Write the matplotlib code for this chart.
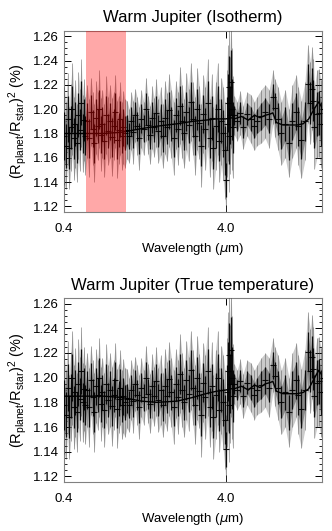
import matplotlib
matplotlib.use("Agg")
import matplotlib.pyplot as plt
from matplotlib.ticker import FixedLocator, MultipleLocator, NullLocator
import numpy as np

plt.rcParams['font.family'] = ['Liberation Sans', 'DejaVu Sans']
plt.rcParams['mathtext.default'] = 'regular'

# observed spectrum (same simulated observation in both panels)
wave = [0.40, 0.41, 0.42, 0.43, 0.44, 0.45, 0.46, 0.47, 0.48, 0.49, 0.50, 0.51, 0.52, 0.53, 0.54,
        0.555, 0.57, 0.585, 0.60, 0.615, 0.63, 0.645, 0.66, 0.675, 0.69, 0.71, 0.73, 0.75, 0.77,
        0.79, 0.81, 0.83, 0.85, 0.87, 0.89, 0.91, 0.93, 0.95,
        0.98, 1.01, 1.04, 1.07, 1.10, 1.13, 1.16, 1.20, 1.24, 1.28, 1.32, 1.36, 1.40, 1.44, 1.48,
        1.53, 1.58, 1.63, 1.68, 1.73, 1.78, 1.84, 1.90, 1.96, 2.02, 2.08, 2.14, 2.21, 2.28, 2.35,
        2.42, 2.50, 2.58, 2.66, 2.74, 2.82, 2.90, 2.99, 3.08, 3.17, 3.26, 3.35, 3.45, 3.55, 3.65,
        3.75, 3.85, 3.95, 4.00, 4.05, 4.10, 4.15, 4.20, 4.25, 4.30, 4.35, 4.40,
        4.5, 4.7, 4.9, 5.1, 5.4, 5.7, 6.0, 6.2, 6.6, 7.0, 7.4, 7.8, 8.0, 8.4, 8.8, 9.3, 9.8,
        10.3, 10.9, 11.2, 11.7, 12.3, 12.8, 13.3, 13.6, 13.9, 14.1, 14.6, 15.0, 15.5, 16.0]
depth = [1.178, 1.170, 1.192, 1.168, 1.185, 1.200, 1.176, 1.188, 1.172, 1.195, 1.183, 1.205, 1.180, 1.191, 1.178,
         1.190, 1.176, 1.198, 1.184, 1.172, 1.193, 1.186, 1.200, 1.179, 1.188, 1.174, 1.195, 1.182, 1.190,
         1.177, 1.186, 1.198, 1.175, 1.183, 1.192, 1.178, 1.185, 1.180,
         1.183, 1.178, 1.190, 1.181, 1.195, 1.186, 1.176, 1.192, 1.184, 1.200, 1.187, 1.179, 1.193, 1.185, 1.197,
         1.182, 1.190, 1.178, 1.193, 1.185, 1.199, 1.188, 1.176, 1.195, 1.184, 1.203, 1.190, 1.180, 1.198, 1.187,
         1.206, 1.192, 1.178, 1.200, 1.189, 1.170, 1.196, 1.184, 1.205, 1.176, 1.193, 1.168, 1.186, 1.200, 1.174,
         1.190, 1.180, 1.166, 1.142, 1.188, 1.205, 1.178, 1.218, 1.195, 1.222, 1.200, 1.185,
         1.195, 1.190, 1.197, 1.185, 1.196, 1.192, 1.186, 1.190, 1.194, 1.198, 1.192, 1.210, 1.201, 1.192, 1.180, 1.188, 1.172,
         1.190, 1.198, 1.186, 1.175, 1.190, 1.221, 1.205, 1.217, 1.207, 1.185, 1.196, 1.197, 1.188, 1.200]
err = [0.020, 0.018, 0.019, 0.017, 0.018, 0.019, 0.017, 0.018, 0.016, 0.018, 0.017, 0.018, 0.016, 0.017, 0.016,
       0.015, 0.016, 0.014, 0.015, 0.016, 0.015, 0.014, 0.016, 0.015, 0.014, 0.015, 0.016, 0.014, 0.015,
       0.016, 0.014, 0.015, 0.016, 0.014, 0.015, 0.014, 0.015, 0.014,
       0.012, 0.011, 0.012, 0.013, 0.011, 0.012, 0.013, 0.012, 0.011, 0.013, 0.012, 0.012, 0.013, 0.012, 0.014,
       0.013, 0.014, 0.013, 0.015, 0.014, 0.015, 0.014, 0.015, 0.014, 0.015, 0.016, 0.015, 0.014, 0.016, 0.015,
       0.016, 0.015, 0.016, 0.017, 0.015, 0.017, 0.016, 0.017, 0.018, 0.016, 0.018, 0.017, 0.018, 0.019, 0.017,
       0.018, 0.019, 0.020, 0.014, 0.022, 0.024, 0.023, 0.026, 0.024, 0.027, 0.025, 0.021,
       0.008, 0.008, 0.009, 0.009, 0.009, 0.010, 0.010, 0.010, 0.011, 0.011, 0.012, 0.011, 0.012, 0.013, 0.013, 0.014, 0.014,
       0.015, 0.015, 0.016, 0.016, 0.016, 0.016, 0.017, 0.017, 0.017, 0.017, 0.018, 0.018, 0.018, 0.018]

# retrieved model spectra
model_wave = [0.40, 0.55, 0.70, 0.90, 1.0, 1.2, 1.5, 2.0, 2.5, 3.0, 3.5, 4.0, 4.3, 4.5, 5.0,
              5.5, 6.0, 6.5, 7.0, 7.5, 7.8, 8.2, 9.0, 10.0, 11.0, 12.0, 13.0, 14.0, 15.0, 16.0]
model_iso = [1.180, 1.180, 1.180, 1.181, 1.182, 1.184, 1.186, 1.188, 1.190, 1.191, 1.192, 1.192, 1.193, 1.192, 1.194,
             1.191, 1.195, 1.193, 1.195, 1.196, 1.197, 1.189, 1.187, 1.187, 1.187, 1.188, 1.192, 1.200, 1.206, 1.199]
model_true = [1.185, 1.185, 1.185, 1.184, 1.183, 1.181, 1.180, 1.181, 1.184, 1.187, 1.189, 1.190, 1.191, 1.191, 1.193,
              1.190, 1.194, 1.192, 1.195, 1.196, 1.197, 1.189, 1.187, 1.187, 1.187, 1.188, 1.191, 1.199, 1.206, 1.200]

titles = ['Warm Jupiter (Isotherm)', 'Warm Jupiter (True temperature)']
models = [model_iso, model_true]
band = (0.55, 0.96)

w = np.array(wave)
d = np.array(depth)
e = np.array(err)

fig = plt.figure(figsize=(3.32, 5.31), dpi=100)
boxes = [[0.193, 0.601, 0.777, 0.341], [0.193, 0.0923, 0.777, 0.3465]]

for i in range(2):
    ax = fig.add_axes(boxes[i])
    ax.fill_between(w, d - 2 * e, d + 2 * e, color='#cbcbcb', lw=0, zorder=1)
    ax.fill_between(w, d - e, d + e, color='#888888', lw=0, zorder=2)
    ax.vlines(w, d - 2 * e, d + 2 * e, color='#444444', lw=0.5, alpha=0.6, zorder=3)
    ax.errorbar(w, d, yerr=e, fmt='_', ms=5, mew=0.8, color='black',
                ecolor='black', elinewidth=0.9, alpha=0.9, zorder=3)
    ax.plot(model_wave, models[i], color='black', lw=1.0, zorder=4)
    if i == 0:
        ax.axvspan(band[0], band[1], color='red', alpha=0.34, lw=0, zorder=5)

    ax.set_xscale('log')
    ax.set_xlim(0.4, 15.7)
    ax.set_ylim(1.1155, 1.2645)
    ax.xaxis.set_major_locator(FixedLocator([0.4, 4.0]))
    ax.xaxis.set_minor_locator(NullLocator())
    ax.set_xticklabels(['0.4', '4.0'])
    ax.yaxis.set_major_locator(MultipleLocator(0.02))
    ax.yaxis.set_minor_locator(MultipleLocator(0.005))
    ax.yaxis.set_major_formatter(plt.FormatStrFormatter('%.2f'))
    ax.tick_params(which='both', direction='in', top=True, right=True, labelsize=9.5)
    ax.tick_params(which='major', length=5, width=0.7)
    ax.tick_params(which='minor', length=2.5, width=0.6)
    ax.tick_params(axis='x', pad=8)
    for s in ax.spines.values():
        s.set_color('#808080')
        s.set_linewidth(0.8)

    ax.set_title(titles[i], fontsize=12, pad=6)
    ax.set_xlabel(r'Wavelength ($\mathit{\mu}$m)', fontsize=9.5, labelpad=4)
    ax.set_ylabel(r'(R$_{planet}$/R$_{star}$)$^2$ (%)', fontsize=10.5, labelpad=3)

fig.savefig('out.png', dpi=100)
